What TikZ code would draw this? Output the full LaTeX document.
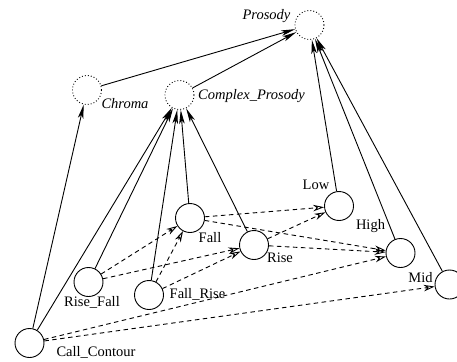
\documentclass[tikz,border=0pt]{standalone}
\usepackage{fontspec}
\setmainfont{Liberation Serif}
\usetikzlibrary{arrows.meta}
\begin{document}
\begin{tikzpicture}[x=1pt,y=-1pt,
  every node/.style={font=\fontsize{14.5pt}{17pt}\selectfont},
  state/.style={circle,draw,line width=0.9pt,minimum size=29pt,inner sep=0pt},
  hidden/.style={circle,draw,line width=0.9pt,dash pattern=on 0.9pt off 2.1pt,minimum size=29pt,inner sep=0pt},
  lbl/.style={inner sep=0pt,anchor=center},
  ilbl/.style={inner sep=0pt,anchor=center,font=\fontsize{14.5pt}{17pt}\selectfont\itshape},
  solidarrow/.style={draw,line width=0.9pt,-{Stealth[length=14pt,width=5.5pt,inset=3.5pt]}},
  dasharrow/.style={draw,line width=0.9pt,dash pattern=on 4.5pt off 3.5pt,-{Stealth[open,length=11pt,width=6.5pt,inset=3.5pt,sep=0pt]}}
]
\useasboundingbox (0,0) rectangle (457,361);
\clip (0,0) rectangle (457,361);
% hidden nodes
\node[hidden] (pros) at (309.5,25) {};
\node[hidden] (chroma) at (87,90) {};
\node[hidden] (cpros) at (179.5,95) {};
% observed nodes
\node[state] (fall) at (190,218) {};
\node[state] (rise) at (254,245) {};
\node[state] (low) at (339,206) {};
\node[state] (high) at (400.5,253) {};
\node[state] (mid) at (449.5,284.5) {};
\node[state] (rf) at (88.5,282) {};
\node[state] (fr) at (149,295) {};
\node[state] (cc) at (29.5,343) {};
% labels
\node[ilbl] (lpros) at (266.5,16) {Prosody};
\node[ilbl] (lchroma) at (125,104) {Chroma};
\node[ilbl] (lcpros) at (251.5,96) {Complex\_Prosody};
\node[lbl] (lfall) at (210,238) {Fall};
\node[lbl] (lrise) at (280,258) {Rise};
\node[lbl] (llow) at (316,185) {Low};
\node[lbl] (lhigh) at (370.5,226) {High};
\node[lbl] (lmid) at (420.5,278) {Mid};
\node[lbl] (lrf) at (92,302) {Rise\_Fall};
\node[lbl] (lfr) at (197.5,294) {Fall\_Rise};
\node[lbl] (lcc) at (96,352) {Call\_Contour};
% solid edges
\draw[solidarrow] (chroma) -- (pros);
\draw[solidarrow] (cpros) -- (pros);
\draw[solidarrow] (low) -- (pros);
\draw[solidarrow] (high) -- (pros);
\draw[solidarrow] (mid) -- (pros);
\draw[solidarrow] (cc) -- (chroma);
\draw[solidarrow] (cc) -- (cpros);
\draw[solidarrow] (rf) -- (cpros);
\draw[solidarrow] (fr) -- (cpros);
\draw[solidarrow] (fall) -- (cpros);
\draw[solidarrow] (rise) -- (cpros);
% dashed edges
\draw[dasharrow] (rf) -- (fall);
\draw[dasharrow] (rf) -- (rise);
\draw[dasharrow] (fr) -- (fall);
\draw[dasharrow] (fr) -- (rise);
\draw[dasharrow] (fall) -- (low);
\draw[dasharrow] (fall) -- (high);
\draw[dasharrow] (rise) -- (low);
\draw[dasharrow] (rise) -- (high);
\draw[dasharrow] (cc) -- (high);
\draw[dasharrow] (cc) -- (mid);
\end{tikzpicture}
\end{document}
